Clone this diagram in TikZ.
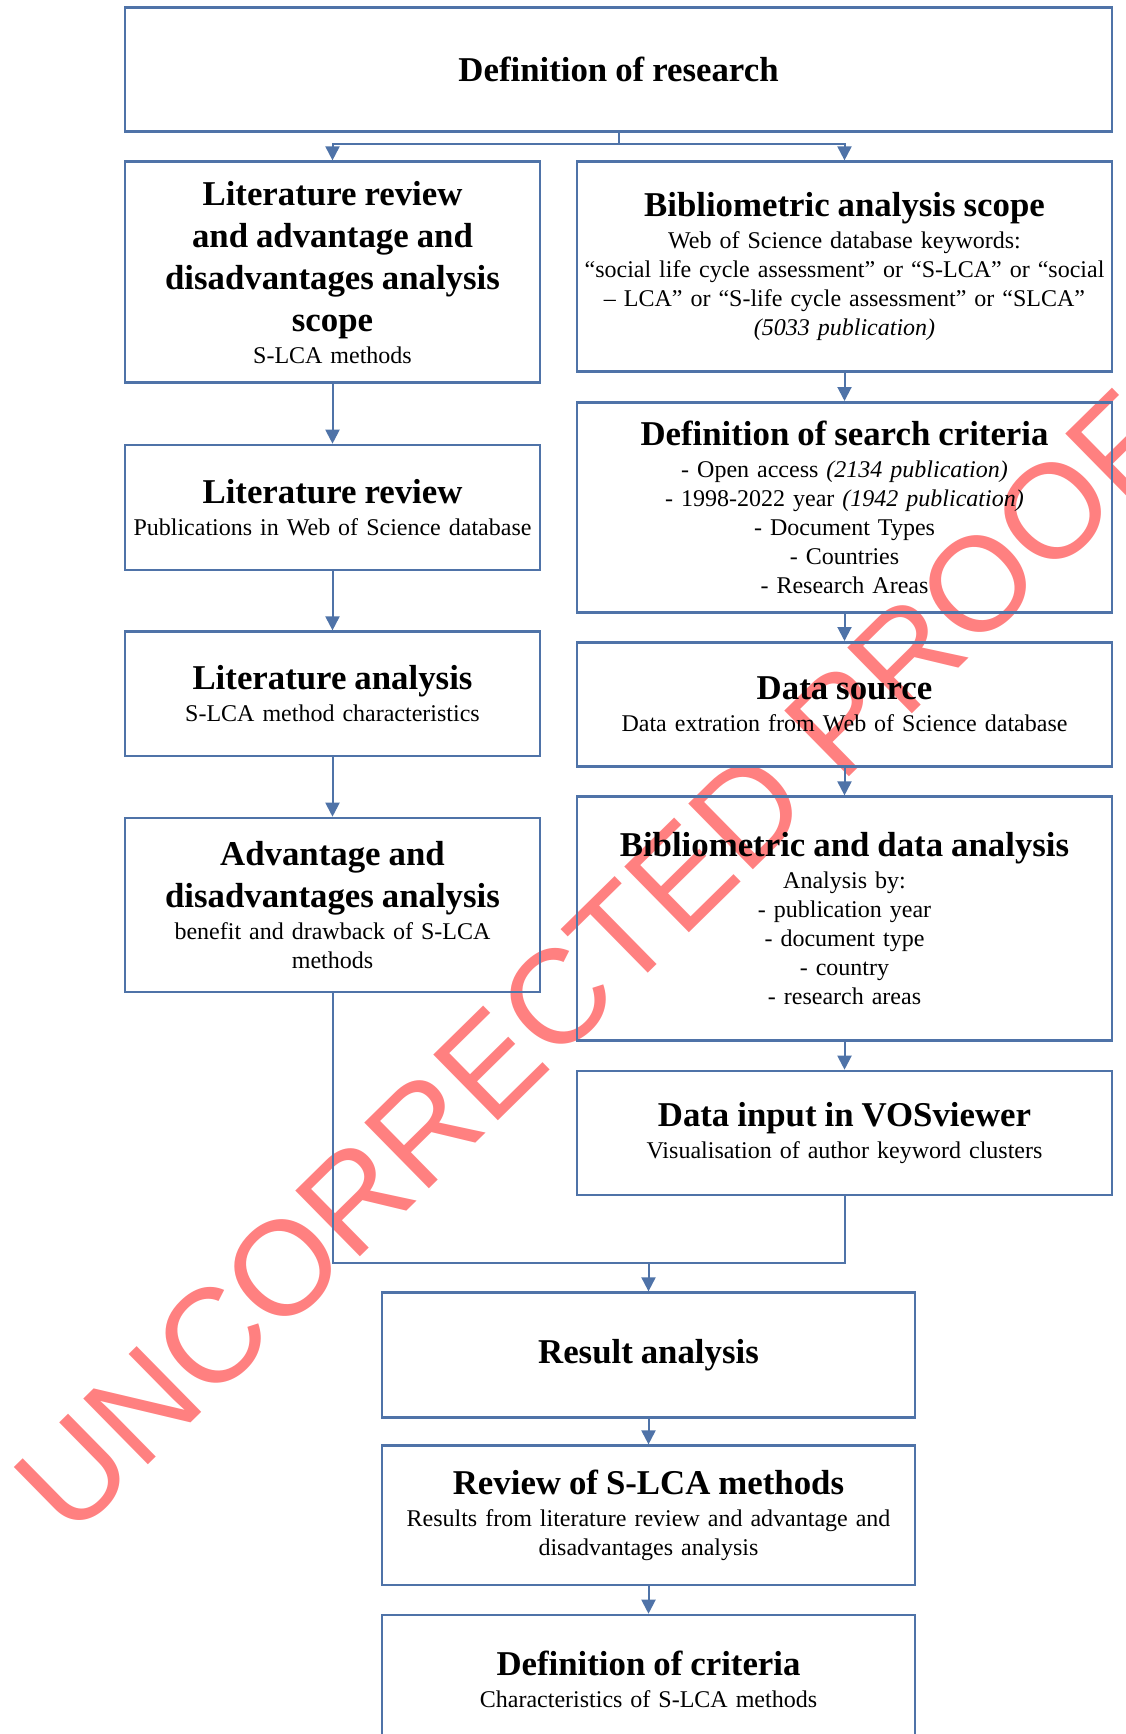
\documentclass[tikz,border=0pt]{standalone}
\usepackage{fontspec}
\setmainfont{Liberation Serif}
\newfontfamily\wmfont{Liberation Sans}
\usetikzlibrary{arrows.meta}
\definecolor{frame}{RGB}{79,115,168}
\definecolor{stamp}{RGB}{255,128,128}
\newcommand\ttlfont{\fontsize{17.4}{21}\selectfont\bfseries}
\newcommand\smlfont{\fontsize{12}{14.5}\selectfont}
\newcommand\heading[1]{{\ttlfont #1\par}\vspace{1.6pt}}

\begin{document}
\begin{tikzpicture}[x=0.5pt,y=-0.5pt,
  box/.style={draw=frame, line width=1.3pt, align=center, inner sep=2pt, font=\smlfont},
  colL/.style={box, text width=203.5pt},
  colR/.style={box, text width=263.5pt},
  colB/.style={box, text width=262.5pt},
  conn/.style={draw=frame, line width=1pt},
  arr/.style={conn, -{Triangle[width=7pt,length=7pt]}},
  stamptext/.style={text=stamp, font=\wmfont\fontsize{67}{67}\selectfont, inner sep=0pt}]

\useasboundingbox (0,0) rectangle (1125,1734);
\clip (0,0) rectangle (1125,1734);

% proof stamp across the page
\node[stamptext, rotate=44.5, anchor=base west] (stampmark) at (71.2,1540.8) {UNCORRECTED PROOF};

% top box
\node[box, text width=489.5pt, minimum height=62.1pt] (top) at (618.5,69.6) {\ttlfont Definition of research};

% left column
\node[colL, minimum height=110.5pt] (L1) at (332.5,272.2)
  {\heading{Literature review\\and advantage and\\disadvantages analysis\\scope}S-LCA methods};
\node[colL, minimum height=62.5pt] (L2) at (332.5,507.5)
  {\heading{Literature review}Publications in Web of Science database};
\node[colL, minimum height=62.15pt] (L3) at (332.5,693.85)
  {\heading{Literature analysis}S-LCA method characteristics};
\node[colL, minimum height=87pt] (L4) at (332.5,905)
  {\heading{Advantage and\\disadvantages analysis}benefit and drawback of S-LCA\\methods};

% right column
\node[colR, minimum height=105pt] (R1) at (844.5,266.7)
  {\heading{Bibliometric analysis scope}Web of Science database keywords:\\“social life cycle assessment” or “S-LCA” or “social\\– LCA” or “S-life cycle assessment” or “SLCA”\\\textit{(5033 publication)}};
\node[colR, minimum height=105pt] (R2) at (844.5,507.3)
  {\heading{Definition of search criteria}- Open access \textit{(2134 publication)}\\- 1998-2022 year \textit{(1942 publication)}\\- Document Types\\- Countries\\- Research Areas};
\node[colR, minimum height=62.2pt] (R3) at (844.5,704.5)
  {\heading{Data source}Data extration from Web of Science database};
\node[colR, minimum height=122pt] (R4) at (844.5,918.7)
  {\heading{Bibliometric and data analysis}Analysis by:\\- publication year\\- document type\\- country\\- research areas};
\node[colR, minimum height=62pt] (R5) at (844.5,1133)
  {\heading{Data input in VOSviewer}Visualisation of author keyword clusters};

% bottom column
\node[colB, minimum height=62.35pt] (B1) at (648.5,1355) {\ttlfont Result analysis};
\node[colB, minimum height=69.65pt] (B2) at (648.5,1515.35)
  {\heading{Review of S-LCA methods}Results from literature review and advantage and\\disadvantages analysis};
\node[colB, minimum height=64pt] (B3) at (648.5,1679)
  {\heading{Definition of criteria}Characteristics of S-LCA methods};

% split below the top box
\coordinate (split) at (618.5,144);
\draw[conn] (top.south) -- (split);
\draw[arr] (split) -| (L1.north);
\draw[arr] (split) -| (R1.north);

% left chain
\draw[arr] (L1.south) -- (L2.north);
\draw[arr] (L2.south) -- (L3.north);
\draw[arr] (L3.south) -- (L4.north);

% right chain
\draw[arr] (R1.south) -- (R2.north);
\draw[arr] (R2.south) -- (R3.north);
\draw[arr] (R3.south) -- (R4.north);
\draw[arr] (R4.south) -- (R5.north);

% join of both columns
\coordinate (join) at (648.5,1263);
\draw[conn] (L4.south) |- (join) -| (R5.south);
\draw[arr] (join) -- (B1.north);

% bottom chain
\draw[arr] (B1.south) -- (B2.north);
\draw[arr] (B2.south) -- (B3.north);
\end{tikzpicture}
\end{document}
